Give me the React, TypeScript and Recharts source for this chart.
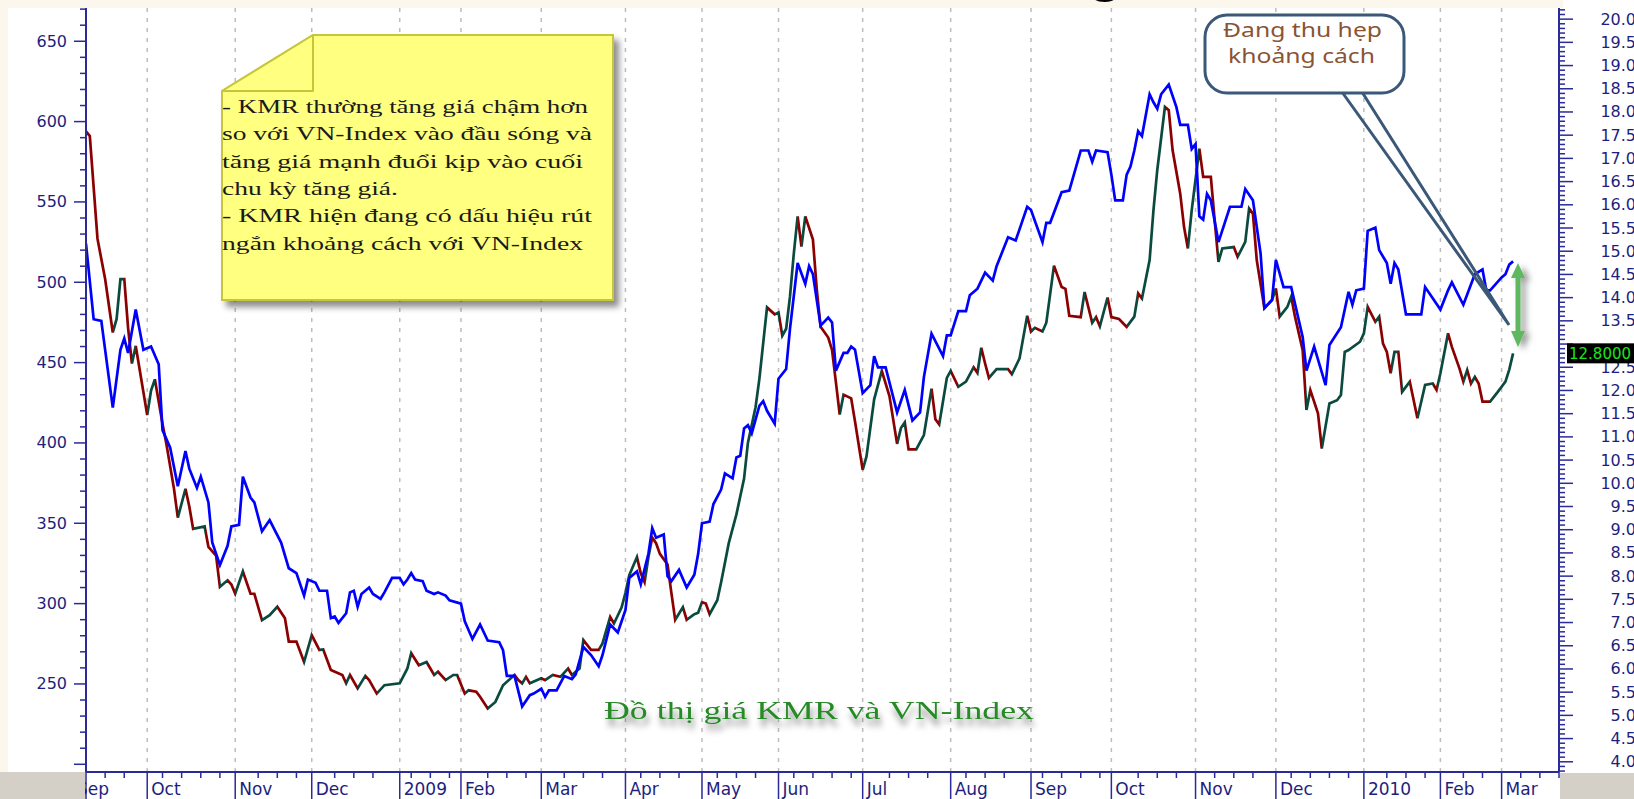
import { LineChart, Line, XAxis, YAxis, ReferenceLine } from 'recharts';

// trading-day index (0 = first session shown) of each month start
const monthDays = [0, 16, 39, 59, 82, 98, 119, 141, 161, 181, 203, 226, 247, 268, 290, 311, 334, 354, 370];
const monthLabels = ['Sep', 'Oct', 'Nov', 'Dec', '2009', 'Feb', 'Mar', 'Apr', 'May', 'Jun', 'Jul', 'Aug', 'Sep', 'Oct', 'Nov', 'Dec', '2010', 'Feb', 'Mar'];

// VN-Index (left axis), [day, points]
const vnIndex: [number, number][] = [
  [0, 524], [2, 477], [4, 476], [7, 422], [9, 458], [10, 465], [11, 456], [13, 483], [15, 458], [17, 460],
  [19, 449], [20, 408], [22, 397], [24, 373], [26, 395], [27, 384], [29, 372], [30, 379], [32, 363], [33, 338],
  [35, 324], [37, 336], [38, 348], [40, 349], [41, 379], [43, 366], [44, 363], [46, 345], [48, 352], [51, 338],
  [53, 322], [55, 319], [57, 305], [58, 315], [60, 313], [61, 308], [63, 308], [64, 291], [65, 292], [66, 288],
  [68, 294], [69, 307], [70, 308], [71, 298], [72, 306], [74, 310], [75, 306], [77, 303], [78, 307], [80, 316],
  [82, 316], [83, 312], [84, 315], [85, 319], [86, 315], [88, 314], [89, 308], [91, 306], [92, 307], [94, 305],
  [95, 302], [98, 300], [99, 289], [101, 278], [103, 287], [105, 277], [108, 276], [109, 271], [110, 255], [112, 255],
  [114, 236], [116, 243], [117, 244], [119, 247], [120, 242], [121, 246], [123, 246], [125, 255], [127, 253], [128, 256],
  [130, 273], [132, 268], [134, 261], [135, 268], [137, 287], [139, 282], [141, 296], [142, 316], [144, 320], [145, 312],
  [147, 331], [148, 347], [149, 341], [151, 343], [152, 317], [153, 314], [155, 321], [157, 310], [159, 318], [160, 331],
  [161, 350], [163, 351], [164, 362], [166, 371], [167, 381], [169, 378], [170, 391], [171, 392], [172, 409], [173, 411],
  [174, 406], [176, 423], [177, 426], [178, 420], [180, 412], [181, 440], [183, 446], [184, 471], [186, 512], [188, 499],
  [189, 510], [190, 505], [192, 473], [194, 478], [195, 475], [196, 445], [198, 456], [199, 456], [200, 460], [201, 458],
  [203, 431], [205, 436], [206, 454], [207, 447], [209, 447], [212, 419], [214, 433], [216, 414], [218, 419], [219, 441],
  [221, 468], [224, 454], [225, 467], [226, 467], [228, 482], [230, 482], [231, 492], [233, 496], [235, 506], [237, 501],
  [238, 510], [241, 528], [243, 526], [246, 547], [247, 545], [250, 525], [251, 537], [252, 537], [255, 556], [257, 557],
  [260, 582], [262, 582], [263, 575], [264, 582], [267, 581], [268, 567], [269, 551], [271, 551], [272, 567], [273, 572],
  [274, 582], [275, 594], [276, 591], [278, 617], [279, 612], [280, 608], [281, 617], [283, 623], [285, 609], [286, 598],
  [288, 598], [289, 583], [290, 586], [291, 541], [292, 539], [293, 555], [294, 551], [296, 525], [299, 547], [302, 547],
  [303, 558], [305, 551], [307, 518], [308, 484], [310, 489], [311, 514], [313, 497], [315, 497], [318, 466], [319, 445],
  [321, 460], [324, 436], [325, 461], [328, 472], [330, 494], [331, 486], [332, 495], [334, 496], [335, 532], [337, 534],
  [338, 520], [340, 512], [341, 499], [342, 512], [343, 508], [345, 480], [347, 480], [349, 480], [350, 497], [352, 490],
  [354, 483], [356, 495], [357, 500], [360, 486], [363, 505], [365, 508], [366, 495], [367, 495], [370, 503], [371, 505],
  [372, 511], [373, 513],
];

// KMR price (right axis), [day, price]
const kmrPrice: [number, number][] = [
  [0, 17.58], [1, 17.48], [3, 15.27], [5, 14.4], [7, 13.25], [8, 13.54], [9, 14.4], [10, 14.4], [11, 13.35], [12, 12.58],
  [13, 12.96], [16, 11.47], [17, 12.0], [18, 12.24], [20, 11.28], [21, 10.85], [23, 9.88], [24, 9.26], [26, 9.88], [27, 9.5],
  [28, 9.02], [31, 9.07], [32, 8.63], [34, 8.44], [35, 7.77], [37, 7.91], [38, 7.82], [39, 7.62], [41, 8.1], [43, 7.62],
  [44, 7.62], [46, 7.05], [48, 7.16], [50, 7.34], [52, 7.09], [53, 6.59], [55, 6.59], [57, 6.15], [59, 6.73], [61, 6.41],
  [62, 6.42], [64, 5.98], [67, 5.87], [68, 5.69], [69, 5.87], [71, 5.58], [73, 5.85], [74, 5.76], [76, 5.47], [78, 5.65],
  [82, 5.69], [84, 6.01], [85, 6.34], [87, 6.08], [89, 6.15], [91, 5.87], [92, 5.94], [94, 5.76], [96, 5.87], [97, 5.87],
  [99, 5.47], [100, 5.54], [102, 5.51], [103, 5.4], [105, 5.15], [107, 5.29], [109, 5.65], [112, 5.87], [113, 5.76], [114, 5.69],
  [115, 5.83], [116, 5.69], [119, 5.8], [120, 5.76], [122, 5.87], [124, 5.83], [126, 6.01], [127, 5.87], [129, 6.01], [130, 6.62],
  [132, 6.41], [134, 6.41], [135, 6.55], [137, 7.12], [138, 6.98], [140, 7.33], [141, 7.64], [142, 8.02], [144, 8.41], [145, 8.06],
  [146, 7.87], [147, 8.41], [148, 8.83], [149, 8.71], [150, 8.48], [152, 8.25], [153, 7.64], [154, 7.06], [156, 7.33], [157, 7.06],
  [159, 7.18], [160, 7.21], [161, 7.44], [162, 7.41], [163, 7.18], [165, 7.48], [166, 7.87], [168, 8.71], [170, 9.33], [172, 10.1],
  [173, 10.87], [175, 11.64], [176, 12.25], [177, 13.02], [178, 13.79], [180, 13.64], [181, 13.68], [182, 13.18], [183, 13.33], [184, 14.02],
  [185, 14.95], [186, 15.75], [187, 15.1], [188, 15.75], [190, 15.25], [191, 14.18], [192, 13.37], [194, 13.14], [195, 12.87], [196, 12.18],
  [197, 11.48], [198, 11.91], [200, 11.83], [201, 11.33], [203, 10.29], [204, 10.58], [206, 11.81], [208, 12.42], [210, 11.88], [212, 10.85],
  [213, 11.19], [214, 11.31], [215, 10.73], [217, 10.73], [219, 11.04], [221, 12.04], [222, 11.38], [223, 11.27], [225, 12.27], [226, 12.42],
  [228, 12.08], [230, 12.19], [232, 12.5], [233, 12.38], [234, 12.92], [235, 12.58], [236, 12.27], [238, 12.46], [241, 12.46], [242, 12.35],
  [244, 12.69], [246, 13.61], [247, 13.27], [248, 13.35], [250, 13.27], [251, 13.46], [253, 14.69], [255, 14.23], [256, 14.19], [257, 13.61],
  [260, 13.58], [261, 14.12], [263, 13.46], [264, 13.58], [265, 13.38], [267, 14.0], [268, 13.58], [270, 13.54], [272, 13.37], [274, 13.59],
  [275, 14.09], [276, 13.98], [278, 14.81], [279, 15.88], [280, 16.75], [282, 18.11], [283, 18.04], [284, 17.18], [286, 16.24], [287, 15.52],
  [288, 15.06], [289, 15.88], [291, 17.21], [292, 16.6], [294, 16.6], [295, 15.67], [296, 14.77], [297, 15.06], [300, 15.09], [301, 14.88],
  [303, 15.2], [304, 15.92], [305, 15.81], [306, 14.81], [308, 13.77], [310, 13.95], [311, 14.2], [312, 13.59], [314, 13.8], [315, 14.02],
  [316, 13.59], [318, 12.87], [319, 11.58], [320, 12.01], [322, 11.51], [323, 10.75], [325, 11.72], [327, 11.79], [328, 11.9], [329, 12.83],
  [330, 12.87], [333, 13.05], [334, 13.23], [335, 13.8], [337, 13.48], [338, 13.59], [339, 13.01], [340, 12.83], [341, 12.37], [342, 12.83],
  [343, 12.83], [344, 11.97], [346, 12.19], [348, 11.4], [350, 12.12], [352, 12.15], [353, 12.01], [354, 12.37], [356, 13.23], [357, 12.94],
  [359, 12.47], [360, 12.19], [361, 12.44], [362, 12.15], [363, 12.29], [364, 12.15], [365, 11.76], [367, 11.76], [369, 11.97], [370, 12.08],
  [371, 12.19], [372, 12.45], [373, 12.8],
];

const noteLines = [
  '- KMR thường tăng giá chậm hơn',
  'so với VN-Index vào đầu sóng và',
  'tăng giá mạnh đuổi kịp vào cuối',
  'chu kỳ tăng giá.',
  '- KMR hiện đang có dấu hiệu rút',
  'ngắn khoảng cách với VN-Index',
];
const noteWidths = [366, 370, 361, 176, 370, 361];
const calloutLines = ['Đang thu hẹp', 'khoảng cách'];
const chartTitle = 'Đồ thị giá KMR và VN-Index';

const AXIS = '#2a2a98';
const LABEL = '#1e1e7e';
const UP = '#0b4a3e';
const DOWN = '#8b0000';

const leftTicks: number[] = [];
for (let v = 200; v <= 670; v += 10) leftTicks.push(v);
const leftLabelMin = 250; // the 200 label sits in the axis corner and is not drawn

const lastKmr = kmrPrice[kmrPrice.length - 1][1];
const rightTicks: number[] = [];
for (let t = 38; t <= 202; t++) if (t !== Math.round(lastKmr * 10)) rightTicks.push(t / 10);
rightTicks.push(lastKmr);

const xTicks: number[] = [...monthDays];
for (let d = 5; d <= 385; d += 5) if (monthDays.every((m) => Math.abs(m - d) > 2)) xTicks.push(d);
xTicks.sort((a, b) => a - b);

type Row = { d: number; vn?: number; kmr?: number };
const byDay = new Map<number, Row>();
for (const [d, v] of vnIndex) byDay.set(d, { ...(byDay.get(d) ?? { d }), vn: v });
for (const [d, v] of kmrPrice) byDay.set(d, { ...(byDay.get(d) ?? { d }), kmr: v });
const chartData = [...byDay.values()].sort((a, b) => a.d - b.d);

// red while falling, dark green while rising
function kmrStops() {
  const d0 = kmrPrice[0][0];
  const span = kmrPrice[kmrPrice.length - 1][0] - d0;
  const stops: { offset: number; color: string }[] = [];
  let up = false;
  for (let i = 0; i < kmrPrice.length - 1; i++) {
    const [da, va] = kmrPrice[i];
    const [db, vb] = kmrPrice[i + 1];
    if (vb > va) up = true;
    else if (vb < va) up = false;
    const color = up ? UP : DOWN;
    stops.push({ offset: (da - d0) / span, color }, { offset: (db - d0) / span, color });
  }
  return stops;
}

function LeftTick(props: any) {
  const { x, y, payload } = props;
  const major = payload.value % 50 === 0;
  return (
    <g>
      <line x1={x - (major ? 12 : 6)} x2={x} y1={y} y2={y} stroke={AXIS} strokeWidth={1.5} />
      {major && payload.value >= leftLabelMin && (
        <text x={x - 19} y={y} dy={5.5} textAnchor="end" fontSize={16} fontFamily="DejaVu Sans" fill={LABEL}>
          {payload.value}
        </text>
      )}
    </g>
  );
}

function RightTick(props: any) {
  const { x, y, payload } = props;
  const v = payload.value as number;
  const major = Math.round(v * 10) % 5 === 0;
  const isTag = Math.abs(v - lastKmr) < 1e-6;
  const underTag = Math.abs(v - lastKmr) < 0.25;
  return (
    <g>
      <line x1={x} x2={x + (major ? 14 : 6)} y1={y} y2={y} stroke={AXIS} strokeWidth={1.5} />
      {major && !underTag && (
        <text x={x + 77} y={y} dy={5.5} textAnchor="end" fontSize={16} fontFamily="DejaVu Sans" fill={LABEL}>
          {v.toFixed(1)}
        </text>
      )}
      {isTag && (
        <g>
          <rect x={x + 8} y={y - 10} width={80} height={20} fill="#000" />
          <text x={x + 10} y={y} dy={5.5} fontSize={15} fontFamily="DejaVu Sans" fill="#19e619">
            {lastKmr.toFixed(4)}
          </text>
        </g>
      )}
    </g>
  );
}

function XTick(props: any) {
  const { x, y, payload } = props;
  const idx = monthDays.indexOf(payload.value);
  if (idx < 0) return <line x1={x} x2={x} y1={y} y2={y + 6} stroke={AXIS} strokeWidth={1.5} />;
  return (
    <g>
      <line x1={x} x2={x} y1={y} y2={y + 27} stroke={AXIS} strokeWidth={1.5} />
      <text x={idx === 0 ? x - 9 : x + 4} y={y + 23} fontSize={17} fontFamily="DejaVu Sans" fill={LABEL}>
        {monthLabels[idx]}
      </text>
    </g>
  );
}

export default function App() {
  return (
    <div style={{ position: 'absolute', left: 0, top: 0, width: 1634, height: 799, background: '#fff', overflow: 'hidden' }}>
      <LineChart width={1634} height={799} data={chartData} margin={{ top: 8, right: 0, bottom: 0, left: 0 }}>
        <XAxis
          dataKey="d"
          type="number"
          domain={[0, 385]}
          allowDataOverflow
          ticks={xTicks}
          interval={0}
          height={27}
          tickLine={false}
          tickSize={0}
          tickMargin={0}
          axisLine={{ stroke: AXIS, strokeWidth: 2 }}
          tick={(p: any) => <XTick {...p} />}
        />
        <YAxis
          yAxisId="left"
          orientation="left"
          width={86}
          domain={[195.2, 670.7]}
          allowDataOverflow
          ticks={leftTicks}
          interval={0}
          tickLine={false}
          tickSize={0}
          tickMargin={0}
          axisLine={{ stroke: AXIS, strokeWidth: 2 }}
          tick={(p: any) => <LeftTick {...p} />}
        />
        <YAxis
          yAxisId="right"
          orientation="right"
          width={75}
          domain={[3.78, 20.24]}
          allowDataOverflow
          ticks={rightTicks}
          interval={0}
          tickLine={false}
          tickSize={0}
          tickMargin={0}
          axisLine={{ stroke: AXIS, strokeWidth: 2 }}
          tick={(p: any) => <RightTick {...p} />}
        />
        {monthDays.slice(1).map((d) => (
          <ReferenceLine key={d} x={d} yAxisId="left" stroke="#bdbdbd" strokeWidth={1.5} strokeDasharray="4 6" />
        ))}
        <Line
          yAxisId="right"
          dataKey="kmr"
          type="linear"
          stroke="url(#kmrStroke)"
          strokeWidth={2.7}
          dot={false}
          connectNulls
          isAnimationActive={false}
        />
        <Line
          yAxisId="left"
          dataKey="vn"
          type="linear"
          stroke="#0000ff"
          strokeWidth={2.7}
          dot={false}
          connectNulls
          isAnimationActive={false}
        />
      </LineChart>

      <svg width={1634} height={799} style={{ position: 'absolute', left: 0, top: 0, pointerEvents: 'none' }}>
        <defs>
          <linearGradient id="kmrStroke" x1="0" y1="0" x2="1" y2="0">
            {kmrStops().map((s, i) => (
              <stop key={i} offset={s.offset} stopColor={s.color} />
            ))}
          </linearGradient>
          <filter id="noteShadow" x="-10%" y="-10%" width="125%" height="130%">
            <feDropShadow dx="5" dy="6" stdDeviation="3" floodColor="#000" floodOpacity="0.45" />
          </filter>
          <filter id="titleShadow" x="-5%" y="-30%" width="110%" height="190%">
            <feDropShadow dx="2" dy="7" stdDeviation="3" floodColor="#000" floodOpacity="0.45" />
          </filter>
          <filter id="arrowShadow" x="-100%" y="-20%" width="400%" height="140%">
            <feDropShadow dx="5" dy="3" stdDeviation="3" floodColor="#000" floodOpacity="0.4" />
          </filter>
        </defs>

        {/* page frame */}
        <rect x={0} y={0} width={1563} height={8} fill="#fbf7ec" />
        <rect x={0} y={0} width={8} height={772} fill="#fbf7ec" />
        <rect x={0} y={772} width={85} height={27} fill="#d4d0c8" />
        <rect x={1560} y={773} width={74} height={26} fill="#d4d0c8" />
        <text x={1086} y={-11} fontSize={64} fontWeight="bold" fontFamily="Liberation Sans" fill="#000">g</text>

        {/* sticky note */}
        <g filter="url(#noteShadow)">
          <path d="M313,35 L613,35 L613,300 L222,300 L222,91 Z" fill="#ffff80" stroke="#c6c63a" strokeWidth={2} />
        </g>
        <path d="M222,91 L313,35 L313,91 Z" fill="#ffff80" stroke="#c6c63a" strokeWidth={2} strokeLinejoin="round" />
        {noteLines.map((t, i) => (
          <text
            key={i}
            x={222}
            y={113 + i * 27.3}
            fontSize={18}
            fontFamily="Liberation Serif"
            fill="#1a1a1a"
            textLength={noteWidths[i]}
            lengthAdjust="spacingAndGlyphs"
          >
            {t}
          </text>
        ))}

        {/* callout */}
        <path d="M1342,92 L1509,325 L1362,92" fill="none" stroke="#3b5878" strokeWidth={3} strokeLinejoin="miter" />
        <rect x={1205} y={15} width={199} height={78} rx={22} ry={22} fill="#fff" stroke="#3b5878" strokeWidth={3} />
        <text x={1223} y={37} fontSize={20} fontFamily="Noto Sans" fill="#8a5434" textLength={159} lengthAdjust="spacingAndGlyphs">
          {calloutLines[0]}
        </text>
        <text x={1228} y={63} fontSize={20} fontFamily="Noto Sans" fill="#8a5434" textLength={147} lengthAdjust="spacingAndGlyphs">
          {calloutLines[1]}
        </text>

        {/* gap arrow */}
        <g filter="url(#arrowShadow)" fill="#5fb760">
          <rect x={1515.5} y={276} width={5} height={57} />
          <path d="M1511,278 L1518,263 L1525,278 Z" />
          <path d="M1511,331 L1518,347 L1525,331 Z" />
        </g>

        {/* chart caption */}
        <text
          x={604}
          y={719}
          fontSize={26}
          fontFamily="Liberation Serif"
          fill="#268a26"
          textLength={430}
          lengthAdjust="spacingAndGlyphs"
          filter="url(#titleShadow)"
        >
          {chartTitle}
        </text>
      </svg>
    </div>
  );
}
